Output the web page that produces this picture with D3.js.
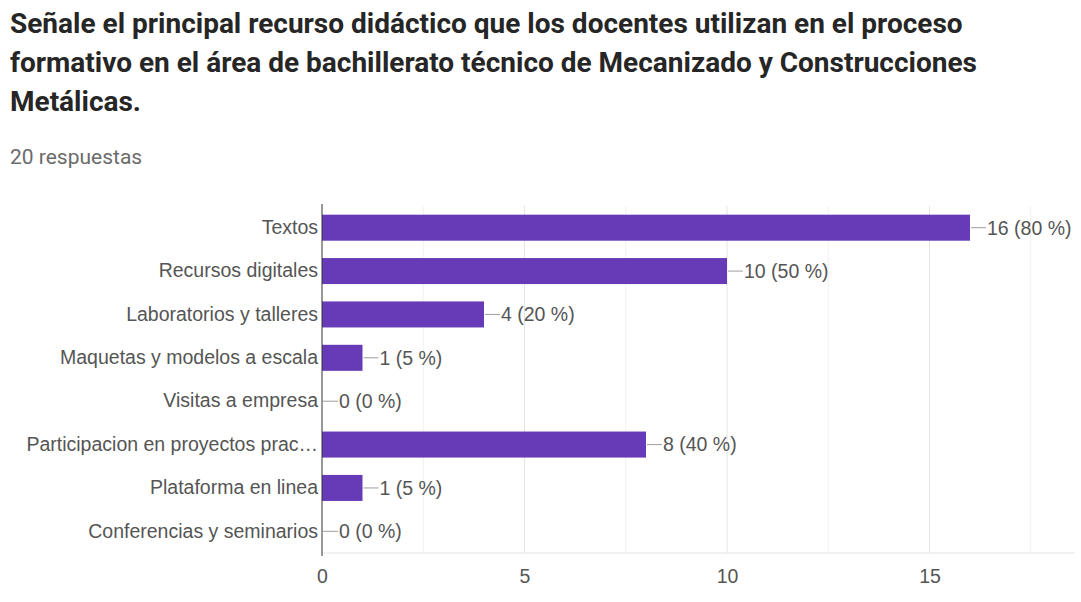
<!DOCTYPE html>
<html>
<head>
<meta charset="utf-8">
<script src="https://cdn.jsdelivr.net/npm/d3@7"></script>
<style>
  html, body { margin: 0; padding: 0; background: #fff; }
  svg { display: block; }
</style>
</head>
<body>
<svg id="chart" width="1081" height="602"></svg>
<script>
// Survey question and response count
const titleLines = [
  "Señale el principal recurso didáctico que los docentes utilizan en el proceso",
  "formativo en el área de bachillerato técnico de Mecanizado y Construcciones",
  "Metálicas."
];
const responsesText = "20 respuestas";

// Answer options and how many respondents picked each
const categories = [
  "Textos",
  "Recursos digitales",
  "Laboratorios y talleres",
  "Maquetas y modelos a escala",
  "Visitas a empresa",
  "Participacion en proyectos prac…",
  "Plataforma en linea",
  "Conferencias y seminarios"
];
const counts = [16, 10, 4, 1, 0, 8, 1, 0];
const percents = [80, 50, 20, 5, 0, 40, 5, 0];

// Axis ticks and grid lines
const tickValues = [0, 5, 10, 15];
const gridValues = [2.5, 5, 7.5, 10, 12.5, 15, 17.5];

const svg = d3.select("#chart");

// Title
const title = svg.append("g")
  .attr("font-family", "Roboto, 'Noto Sans', sans-serif")
  .attr("font-weight", 700)
  .attr("font-size", 28)
  .attr("fill", "#262626");
titleLines.forEach((t, i) => {
  title.append("text").attr("x", 10).attr("y", 33 + i * 39).text(t);
});

svg.append("text")
  .attr("x", 10).attr("y", 164)
  .attr("font-family", "Roboto, 'Noto Sans', sans-serif")
  .attr("font-size", 21)
  .attr("fill", "#6b6b6b")
  .text(responsesText);

// Scales
const plotLeft = 322, plotRight = 1075, plotTop = 206, plotBottom = 553;
const x = d3.scaleLinear().domain([0, 16]).range([plotLeft, 970]);
const y = d3.scaleBand().domain(categories).range([plotTop, plotBottom]).paddingInner(0.4).paddingOuter(0.2);

const font = "'Liberation Sans', Arial, sans-serif";
const fs = 19.5;
const textColor = "#555";

// Vertical grid lines
svg.append("g").selectAll("line")
  .data(gridValues)
  .join("line")
  .attr("x1", d => x(d)).attr("x2", d => x(d))
  .attr("y1", plotTop).attr("y2", plotBottom)
  .attr("stroke", d => d % 5 === 0 ? "#e4e4e4" : "#f1f1f1")
  .attr("stroke-width", 1);

// Bottom baseline
svg.append("line")
  .attr("x1", plotLeft).attr("x2", plotRight)
  .attr("y1", plotBottom).attr("y2", plotBottom)
  .attr("stroke", "#e4e4e4");

// Bars
const rows = categories.map((c, i) => ({ c, v: counts[i], p: percents[i] }));
svg.append("g").selectAll("rect")
  .data(rows.filter(d => d.v > 0))
  .join("rect")
  .attr("x", x(0))
  .attr("y", d => y(d.c))
  .attr("width", d => x(d.v) - x(0))
  .attr("height", y.bandwidth())
  .attr("fill", "#673ab7");

// Value labels with leader lines
const labels = svg.append("g");
rows.forEach(d => {
  const x0 = x(d.v);
  const cy = y(d.c) + y.bandwidth() / 2;
  labels.append("line")
    .attr("x1", x0 + 1).attr("x2", x0 + 16)
    .attr("y1", cy).attr("y2", cy)
    .attr("stroke", "#9e9e9e").attr("stroke-width", 1);
  labels.append("text")
    .attr("x", x0 + 17).attr("y", cy)
    .attr("dy", "0.35em")
    .attr("font-family", font)
    .attr("font-size", fs)
    .attr("fill", textColor)
    .text(`${d.v} (${d.p} %)`);
});

// Category axis
const yAxis = svg.append("g")
  .attr("transform", `translate(${plotLeft},0)`)
  .call(d3.axisLeft(y).tickSize(0).tickPadding(4));
yAxis.select(".domain").attr("stroke", "#333").attr("d", `M0,${plotTop - 2}V${plotBottom + 3}`);
yAxis.selectAll("text")
  .attr("font-family", font)
  .attr("font-size", fs)
  .attr("fill", textColor);

// Value axis
const xAxis = svg.append("g")
  .attr("transform", `translate(0,${plotBottom})`)
  .call(d3.axisBottom(x).tickValues(tickValues).tickSize(0).tickPadding(16).tickFormat(d3.format("d")));
xAxis.select(".domain").remove();
xAxis.selectAll("text")
  .attr("font-family", font)
  .attr("font-size", fs)
  .attr("fill", textColor);
</script>
</body>
</html>
